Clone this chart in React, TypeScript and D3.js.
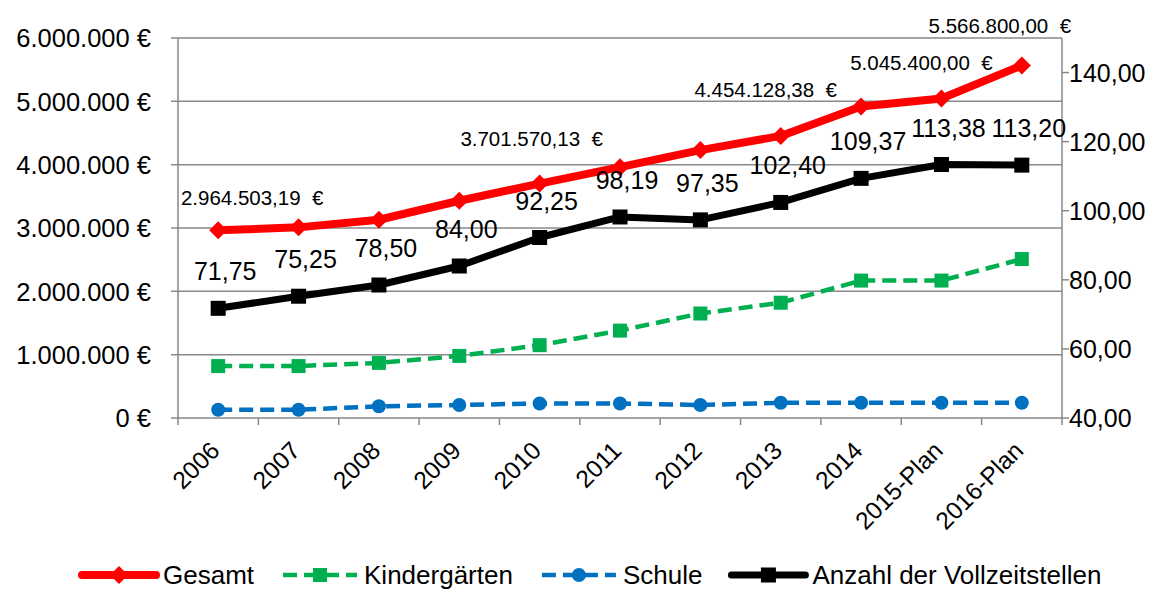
import React, { useEffect, useRef } from "react";
import * as d3 from "d3";

// Categories (years)
const categories = [
  "2006", "2007", "2008", "2009", "2010", "2011",
  "2012", "2013", "2014", "2015-Plan", "2016-Plan",
];

// Costs in EUR (left axis)
const gesamt = [
  2964503.19, 3010000, 3130000, 3430000, 3701570.13, 3960000,
  4230000, 4454128.38, 4920000, 5045400.0, 5566800.0,
];
const kindergaerten = [
  820000, 820000, 870000, 980000, 1150000, 1380000,
  1650000, 1820000, 2170000, 2170000, 2510000,
];
const schule = [
  130000, 130000, 185000, 205000, 230000, 230000,
  205000, 240000, 240000, 240000, 240000,
];

// Full-time positions (right axis)
const vollzeitstellen = [
  71.75, 75.25, 78.5, 84.0, 92.25, 98.19, 97.35, 102.4, 109.37, 113.38, 113.2,
];

// Which Gesamt points carry a value label
const gesamtLabelIndex = [0, 4, 7, 9, 10];

// Axis ticks
const leftTicks = [0, 1000000, 2000000, 3000000, 4000000, 5000000, 6000000];
const rightTicks = [40, 60, 80, 100, 120, 140];

// German number formatting
const de = d3.formatLocale({ decimal: ",", thousands: ".", grouping: [3], currency: ["", " €"] });
const fmtAxisEuro = (v) => de.format(",.0f")(v) + " €";
const fmtLabelEuro = (v) => de.format(",.2f")(v) + "  €";
const fmtFte = de.format(",.2f");

const FONT = "'Liberation Sans', Arial, sans-serif";

const App = () => {
  const svgRef = useRef(null);

  useEffect(() => {
    const width = 1171;
    const marginLeft = 178;
    const marginRight = 109;
    const marginTop = 38;
    const plotBottom = 418;
    const right = width - marginRight;

    const svg = d3.select(svgRef.current);
    svg.selectAll("*").remove();

    const x = d3.scaleBand().domain(categories).range([marginLeft, right]);
    const cx = (i) => x(categories[i]) + x.bandwidth() / 2;
    const yL = d3.scaleLinear().domain([0, 6000000]).range([plotBottom, marginTop]);
    const yR = d3.scaleLinear().domain([40, 150]).range([plotBottom, marginTop]);

    const grid = "#898989";

    // gridlines + left ticks
    svg
      .append("g")
      .selectAll("line")
      .data(leftTicks)
      .join("line")
      .attr("x1", marginLeft - 7)
      .attr("x2", right)
      .attr("y1", (d) => yL(d))
      .attr("y2", (d) => yL(d))
      .attr("stroke", grid)
      .attr("stroke-width", 1.5);

    // left + right axis lines
    svg.append("line").attr("x1", marginLeft).attr("x2", marginLeft)
      .attr("y1", marginTop).attr("y2", plotBottom + 7)
      .attr("stroke", grid).attr("stroke-width", 1.5);
    svg.append("line").attr("x1", right).attr("x2", right)
      .attr("y1", marginTop).attr("y2", plotBottom + 7)
      .attr("stroke", grid).attr("stroke-width", 1.5);

    // bottom category ticks
    svg
      .append("g")
      .selectAll("line")
      .data(categories.slice(1))
      .join("line")
      .attr("x1", (d) => x(d))
      .attr("x2", (d) => x(d))
      .attr("y1", plotBottom)
      .attr("y2", plotBottom + 7)
      .attr("stroke", grid)
      .attr("stroke-width", 1.5);

    // right ticks
    svg
      .append("g")
      .selectAll("line")
      .data(rightTicks)
      .join("line")
      .attr("x1", right)
      .attr("x2", right + 7)
      .attr("y1", (d) => yR(d))
      .attr("y2", (d) => yR(d))
      .attr("stroke", grid)
      .attr("stroke-width", 1.5);

    // left tick labels
    svg
      .append("g")
      .selectAll("text")
      .data(leftTicks)
      .join("text")
      .attr("x", marginLeft - 27)
      .attr("y", (d) => yL(d))
      .attr("dy", "0.36em")
      .attr("text-anchor", "end")
      .attr("font-size", 25.5)
      .text(fmtAxisEuro);

    // right tick labels
    svg
      .append("g")
      .selectAll("text")
      .data(rightTicks)
      .join("text")
      .attr("x", right + 7)
      .attr("y", (d) => yR(d))
      .attr("dy", "0.36em")
      .attr("font-size", 25)
      .text(fmtFte);

    // category labels, rotated
    svg
      .append("g")
      .selectAll("text")
      .data(categories)
      .join("text")
      .attr("transform", (d, i) => `translate(${cx(i) + 3},${plotBottom + 34}) rotate(-45)`)
      .attr("text-anchor", "end")
      .attr("font-size", 24.5)
      .text((d) => d);

    const diamond = "M0,-9L9,0L0,9L-9,0Z";

    const series = [
      { name: "Gesamt", values: gesamt, y: yL, color: "#FF0000", width: 8, dash: null, marker: "diamond" },
      { name: "Kindergärten", values: kindergaerten, y: yL, color: "#00B050", width: 4.5, dash: "14,7", marker: "square", size: 14 },
      { name: "Schule", values: schule, y: yL, color: "#0070C0", width: 4.5, dash: "14,7", marker: "circle" },
      { name: "Anzahl der Vollzeitstellen", values: vollzeitstellen, y: yR, color: "#000000", width: 7, dash: null, marker: "square", size: 15 },
    ];

    const drawMarker = (g, s, px, py) => {
      if (s.marker === "diamond") {
        g.append("path").attr("d", diamond).attr("transform", `translate(${px},${py})`).attr("fill", s.color);
      } else if (s.marker === "square") {
        g.append("rect").attr("x", px - s.size / 2).attr("y", py - s.size / 2)
          .attr("width", s.size).attr("height", s.size).attr("fill", s.color);
      } else {
        g.append("circle").attr("cx", px).attr("cy", py).attr("r", 7).attr("fill", s.color);
      }
    };

    series.forEach((s) => {
      const g = svg.append("g");
      g.append("path")
        .datum(s.values)
        .attr("fill", "none")
        .attr("stroke", s.color)
        .attr("stroke-width", s.width)
        .attr("stroke-linejoin", "round")
        .attr("stroke-dasharray", s.dash)
        .attr("d", d3.line().x((d, i) => cx(i)).y((d) => s.y(d)));
      s.values.forEach((v, i) => drawMarker(g, s, cx(i), s.y(v)));
    });

    // Gesamt value labels (manual nudges, as placed in the original)
    const gesamtNudge = [[34, -33], [-8, -45], [-15, -46], [-20, -36], [-22, -40]];
    svg
      .append("g")
      .selectAll("text")
      .data(gesamtLabelIndex)
      .join("text")
      .attr("x", (d, k) => cx(d) + gesamtNudge[k][0])
      .attr("y", (d, k) => yL(gesamt[d]) + gesamtNudge[k][1])
      .attr("dy", "0.36em")
      .attr("text-anchor", "middle")
      .attr("font-size", 20.5)
      .style("white-space", "pre")
      .text((d) => fmtLabelEuro(gesamt[d]));

    // Vollzeitstellen value labels
    svg
      .append("g")
      .selectAll("text")
      .data(vollzeitstellen)
      .join("text")
      .attr("x", (d, i) => cx(i) + 7)
      .attr("y", (d) => yR(d) - 37)
      .attr("dy", "0.36em")
      .attr("text-anchor", "middle")
      .attr("font-size", 25)
      .text(fmtFte);

    // legend
    const legendY = 575;
    let lx = 82;
    series.forEach((s) => {
      const g = svg.append("g");
      g.append("line")
        .attr("x1", lx).attr("x2", lx + 74)
        .attr("y1", legendY).attr("y2", legendY)
        .attr("stroke", s.color)
        .attr("stroke-width", s.width)
        .attr("stroke-linecap", s.dash ? "butt" : "round")
        .attr("stroke-dasharray", s.dash);
      drawMarker(g, s, lx + 37, legendY);
      const t = g.append("text")
        .attr("x", lx + 81)
        .attr("y", legendY)
        .attr("dy", "0.33em")
        .attr("font-size", 26)
        .text(s.name);
      lx += 81 + t.node().getComputedTextLength() + 29;
    });
  }, []);

  return (
    <svg
      ref={svgRef}
      width={1171}
      height={592}
      style={{ position: "absolute", left: 0, top: 0, fontFamily: FONT, background: "#fff" }}
    ></svg>
  );
};

export default App;
